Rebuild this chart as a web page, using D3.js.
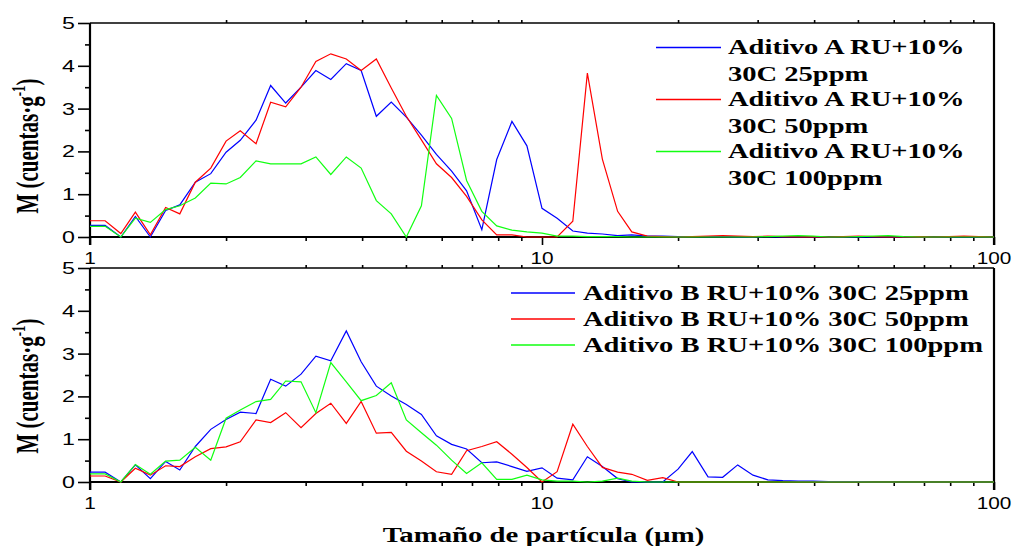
<!DOCTYPE html>
<html>
<head>
<meta charset="utf-8">
<script src="https://cdn.jsdelivr.net/npm/d3@7"></script>
<style>
  body { margin: 0; background: #fff; }
  svg { display: block; }
</style>
</head>
<body>
<svg id="chart" width="1016" height="546"></svg>
<script>
// Particle size bins (µm), 30 per decade from 1 to 100
const sizes = [
  1.00, 1.08, 1.17, 1.26, 1.36, 1.47, 1.58, 1.71, 1.85, 2.00,
  2.15, 2.33, 2.51, 2.71, 2.93, 3.16, 3.41, 3.69, 3.98, 4.30,
  4.64, 5.01, 5.41, 5.84, 6.31, 6.81, 7.36, 7.94, 8.58, 9.26,
  10.0, 10.8, 11.7, 12.6, 13.6, 14.7, 15.8, 17.1, 18.5, 20.0,
  21.5, 23.3, 25.1, 27.1, 29.3, 31.6, 34.1, 36.9, 39.8, 43.0,
  46.4, 50.1, 54.1, 58.4, 63.1, 68.1, 73.6, 79.4, 85.8, 92.6, 100
];

// Additive A, counts per gram
const aditivoA25 = [
  0.27, 0.27, 0.00, 0.48, 0.00, 0.62, 0.75, 1.28, 1.48, 1.98,
  2.26, 2.73, 3.54, 3.13, 3.50, 3.89, 3.68, 4.05, 3.89, 2.82,
  3.15, 2.80, 2.38, 1.93, 1.54, 1.08, 0.17, 1.81, 2.70, 2.13,
  0.67, 0.44, 0.14, 0.09, 0.07, 0.03, 0.05, 0.02, 0.02, 0.01,
  0.01, 0.01, 0.01, 0.00, 0.00, 0.01, 0.00, 0.00, 0.00, 0.00,
  0.00, 0.00, 0.00, 0.00, 0.00, 0.00, 0.00, 0.00, 0.00, 0.00, 0.00
];
const aditivoA50 = [
  0.38, 0.38, 0.08, 0.58, 0.05, 0.69, 0.54, 1.28, 1.61, 2.24,
  2.48, 2.18, 3.15, 3.04, 3.50, 4.10, 4.28, 4.16, 3.89, 4.16,
  3.48, 2.82, 2.27, 1.71, 1.39, 0.95, 0.40, 0.05, 0.05, 0.00,
  0.00, 0.00, 0.37, 3.83, 1.82, 0.60, 0.12, 0.02, 0.01, 0.00,
  0.01, 0.02, 0.03, 0.02, 0.01, 0.02, 0.01, 0.00, 0.01, 0.00,
  0.01, 0.02, 0.01, 0.00, 0.00, 0.01, 0.00, 0.01, 0.02, 0.01, 0.00
];
const aditivoA100 = [
  0.25, 0.25, 0.00, 0.44, 0.34, 0.64, 0.73, 0.91, 1.26, 1.24,
  1.39, 1.78, 1.71, 1.71, 1.71, 1.87, 1.46, 1.87, 1.61, 0.85,
  0.54, 0.00, 0.73, 3.31, 2.77, 1.32, 0.60, 0.26, 0.16, 0.12,
  0.09, 0.02, 0.02, 0.01, 0.01, 0.01, 0.00, 0.00, 0.00, 0.00,
  0.00, 0.00, 0.00, 0.00, 0.00, 0.01, 0.02, 0.03, 0.02, 0.00,
  0.00, 0.01, 0.02, 0.03, 0.01, 0.00, 0.00, 0.00, 0.00, 0.00, 0.00
];

// Additive B, counts per gram
const aditivoB25 = [
  0.23, 0.23, 0.00, 0.40, 0.08, 0.48, 0.28, 0.83, 1.23, 1.46,
  1.63, 1.60, 2.40, 2.24, 2.52, 2.94, 2.83, 3.53, 2.81, 2.24,
  2.01, 1.81, 1.58, 1.08, 0.88, 0.77, 0.45, 0.47, 0.36, 0.25,
  0.33, 0.09, 0.05, 0.59, 0.36, 0.08, 0.00, 0.00, 0.00, 0.30,
  0.71, 0.12, 0.11, 0.40, 0.16, 0.05, 0.03, 0.02, 0.02, 0.01,
  0.01, 0.01, 0.00, 0.00, 0.00, 0.00, 0.00, 0.00, 0.00, 0.00, 0.00
];
const aditivoB50 = [
  0.14, 0.14, 0.00, 0.32, 0.16, 0.38, 0.36, 0.59, 0.78, 0.82,
  0.94, 1.45, 1.39, 1.62, 1.27, 1.60, 1.84, 1.37, 1.88, 1.14,
  1.16, 0.72, 0.49, 0.24, 0.18, 0.73, 0.83, 0.94, 0.65, 0.34,
  0.00, 0.24, 1.35, 0.83, 0.34, 0.23, 0.18, 0.04, 0.10, 0.00,
  0.00, 0.00, 0.00, 0.00, 0.00, 0.00, 0.00, 0.00, 0.00, 0.00,
  0.00, 0.00, 0.00, 0.00, 0.00, 0.00, 0.00, 0.00, 0.00, 0.00, 0.00
];
const aditivoB100 = [
  0.19, 0.19, 0.00, 0.41, 0.18, 0.49, 0.51, 0.81, 0.51, 1.49,
  1.68, 1.88, 1.93, 2.36, 2.34, 1.62, 2.79, 2.34, 1.90, 2.02,
  2.32, 1.45, 1.15, 0.86, 0.51, 0.20, 0.45, 0.06, 0.06, 0.16,
  0.05, 0.02, 0.02, 0.00, 0.02, 0.09, 0.02, 0.00, 0.00, 0.00,
  0.00, 0.00, 0.00, 0.00, 0.00, 0.00, 0.00, 0.00, 0.00, 0.00,
  0.00, 0.00, 0.00, 0.00, 0.00, 0.00, 0.00, 0.00, 0.00, 0.00, 0.00
];

const seriesColors = ["#0000ff", "#ff0000", "#11ff11"];
const legendA = [
  ["Aditivo A RU+10%", "30C 25ppm"],
  ["Aditivo A RU+10%", "30C 50ppm"],
  ["Aditivo A RU+10%", "30C 100ppm"]
];
const legendB = [
  "Aditivo B RU+10% 30C 25ppm",
  "Aditivo B RU+10% 30C 50ppm",
  "Aditivo B RU+10% 30C 100ppm"
];
const xMajorTicks = [1, 10, 100];
const xMinorTicks = [2, 3, 4, 5, 6, 7, 8, 9, 20, 30, 40, 50, 60, 70, 80, 90];
const yMajorTicks = [0, 1, 2, 3, 4, 5];
const yMinorTicks = [0.5, 1.5, 2.5, 3.5, 4.5];
const xTitle = "Tamaño de partícula (µm)";

const svg = d3.select("#chart");
const serif = "'Liberation Serif', 'Times New Roman', serif";
const sans = "'Liberation Sans', Arial, sans-serif";
const WIDE = 1.36; // text is drawn horizontally widened

const x = d3.scaleLog().domain([1, 100]).range([90, 994]);
const left = 90, right = 994;

function label(g, px, py, str, size, family, weight, anchor, sx) {
  return g.append("text")
    .attr("transform", `translate(${px},${py}) scale(${sx},1)`)
    .attr("text-anchor", anchor)
    .attr("font-family", family)
    .attr("font-weight", weight)
    .attr("font-size", size)
    .attr("fill", "#000")
    .text(str);
}

function drawPanel(top, bottom, series, titleCenter) {
  const g = svg.append("g");
  const y = d3.scaleLinear().domain([0, 5]).range([bottom, top]);

  // ticks
  const styleAxis = sel => {
    sel.select(".domain").remove();
    sel.selectAll("line").attr("stroke", "#000").attr("stroke-width", 1.6);
  };
  g.append("g").attr("transform", `translate(0,${bottom})`)
    .call(d3.axisBottom(x).tickValues(xMinorTicks).tickSize(4).tickFormat(""))
    .call(styleAxis);
  g.append("g").attr("transform", `translate(0,${bottom})`)
    .call(d3.axisBottom(x).tickValues(xMajorTicks).tickSize(8).tickFormat(""))
    .call(styleAxis);
  g.append("g").attr("transform", `translate(0,${top})`)
    .call(d3.axisTop(x).tickValues(xMinorTicks).tickSize(3).tickFormat(""))
    .call(styleAxis);
  g.append("g").attr("transform", `translate(${left},0)`)
    .call(d3.axisLeft(y).tickValues(yMajorTicks).tickSize(12).tickFormat(""))
    .call(styleAxis);
  g.append("g").attr("transform", `translate(${left},0)`)
    .call(d3.axisLeft(y).tickValues(yMinorTicks).tickSize(5).tickFormat(""))
    .call(styleAxis);

  // frame
  g.append("line").attr("x1", left).attr("x2", right).attr("y1", top).attr("y2", top)
    .attr("stroke", "#000").attr("stroke-width", 1.6);
  g.append("line").attr("x1", left).attr("x2", right).attr("y1", bottom).attr("y2", bottom)
    .attr("stroke", "#000").attr("stroke-width", 2);
  g.append("line").attr("x1", left).attr("x2", left).attr("y1", top).attr("y2", bottom + 8)
    .attr("stroke", "#000").attr("stroke-width", 2.2);
  g.append("line").attr("x1", right).attr("x2", right).attr("y1", top).attr("y2", bottom + 8)
    .attr("stroke", "#000").attr("stroke-width", 2.2);

  // tick labels
  yMajorTicks.forEach(v => label(g, 75, y(v) + 6, String(v), 16, sans, "normal", "end", 1.45));
  xMajorTicks.forEach(v => label(g, x(v), bottom + 27, String(v), 16, sans, "normal", "middle", 1.3));

  // y title
  const t = g.append("text")
    .attr("transform", `translate(38,${titleCenter}) rotate(-90) scale(1,1.5)`)
    .attr("text-anchor", "middle")
    .attr("font-family", serif).attr("font-weight", "bold").attr("font-size", 21);
  t.append("tspan").text("M (cuentas·g");
  t.append("tspan").attr("font-size", 13).attr("dy", -9).text("-1");
  t.append("tspan").attr("dy", 9).text(")");

  // data lines
  const line = d3.line().x((d, i) => x(sizes[i])).y(d => y(d));
  series.forEach((s, k) => {
    g.append("path").datum(s)
      .attr("d", line)
      .attr("fill", "none")
      .attr("stroke", seriesColors[k])
      .attr("stroke-width", 1.2)
      .attr("stroke-linejoin", "miter");
  });
  return g;
}

const gA = drawPanel(23, 237, [aditivoA25, aditivoA50, aditivoA100], 146);
const gB = drawPanel(268, 482, [aditivoB25, aditivoB50, aditivoB100], 386);

// legend, panel A (two lines per entry)
legendA.forEach((lines, k) => {
  const ly = 47.5 + k * 52;
  gA.append("line").attr("x1", 656).attr("x2", 721).attr("y1", ly).attr("y2", ly)
    .attr("stroke", seriesColors[k]).attr("stroke-width", 1.4);
  label(gA, 728, ly + 6.5, lines[0], 21, serif, "bold", "start", WIDE);
  label(gA, 728, ly + 33, lines[1], 21, serif, "bold", "start", WIDE);
});

// legend, panel B
legendB.forEach((txt, k) => {
  const ly = 293 + k * 26;
  gB.append("line").attr("x1", 511).attr("x2", 575).attr("y1", ly).attr("y2", ly)
    .attr("stroke", seriesColors[k]).attr("stroke-width", 1.4);
  label(gB, 583, ly + 7, txt, 21, serif, "bold", "start", WIDE);
});

// x title
label(svg, 543.5, 542, xTitle, 21, serif, "bold", "middle", 1.37);
</script>
</body>
</html>
